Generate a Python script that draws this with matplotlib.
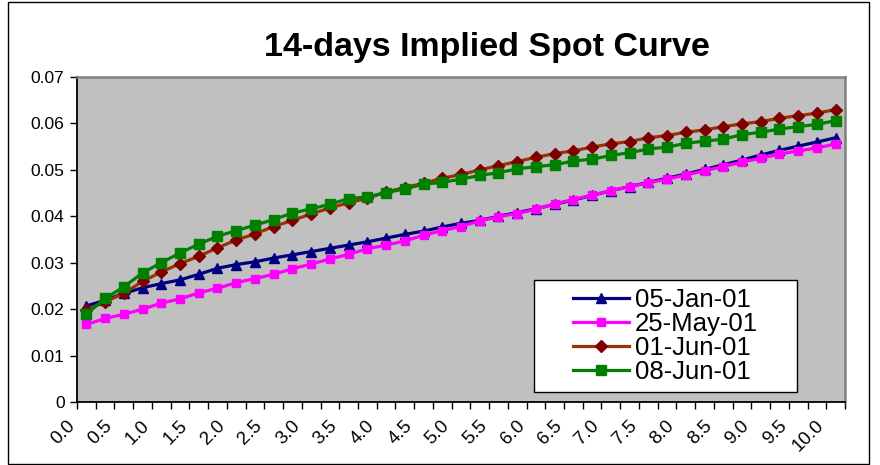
import matplotlib
matplotlib.use("Agg")
import matplotlib.pyplot as plt
import matplotlib.transforms as mtransforms
from matplotlib.patches import Rectangle

plt.rcParams['font.family'] = ['Liberation Sans', 'DejaVu Sans']

maturities = ["0.0", "0.25", "0.5", "0.75", "1.0", "1.25", "1.5", "1.75", "2.0", "2.25",
              "2.5", "2.75", "3.0", "3.25", "3.5", "3.75", "4.0", "4.25", "4.5", "4.75",
              "5.0", "5.25", "5.5", "5.75", "6.0", "6.25", "6.5", "6.75", "7.0", "7.25",
              "7.5", "7.75", "8.0", "8.25", "8.5", "8.75", "9.0", "9.25", "9.5", "9.75", "10.0"]

jan05 = [0.0207, 0.0219, 0.0234, 0.0246, 0.0255, 0.0263, 0.0275, 0.0288, 0.0296, 0.0302,
         0.0310, 0.0317, 0.0324, 0.0331, 0.0338, 0.0345, 0.0353, 0.0361, 0.0368, 0.0377,
         0.0385, 0.0391, 0.0400, 0.0408, 0.0416, 0.0426, 0.0435, 0.0445, 0.0455, 0.0464,
         0.0473, 0.0482, 0.0491, 0.0501, 0.0511, 0.0521, 0.0532, 0.0542, 0.0551, 0.0560, 0.0569]

may25 = [0.0167, 0.0180, 0.0189, 0.0200, 0.0213, 0.0222, 0.0235, 0.0245, 0.0257, 0.0266,
         0.0275, 0.0287, 0.0297, 0.0308, 0.0318, 0.0330, 0.0338, 0.0347, 0.0359, 0.0369,
         0.0378, 0.0390, 0.0399, 0.0406, 0.0415, 0.0427, 0.0436, 0.0446, 0.0455, 0.0464,
         0.0472, 0.0480, 0.0489, 0.0498, 0.0507, 0.0517, 0.0525, 0.0534, 0.0541, 0.0547, 0.0556]

jun01 = [0.0198, 0.0216, 0.0234, 0.0260, 0.0280, 0.0298, 0.0314, 0.0332, 0.0349, 0.0362,
         0.0378, 0.0391, 0.0405, 0.0418, 0.0429, 0.0439, 0.0452, 0.0462, 0.0471, 0.0482,
         0.0490, 0.0500, 0.0509, 0.0518, 0.0527, 0.0535, 0.0541, 0.0549, 0.0556, 0.0561,
         0.0569, 0.0574, 0.0581, 0.0586, 0.0593, 0.0599, 0.0604, 0.0611, 0.0617, 0.0622, 0.0630]

jun08 = [0.0189, 0.0223, 0.0248, 0.0278, 0.0300, 0.0321, 0.0340, 0.0357, 0.0369, 0.0381,
         0.0393, 0.0407, 0.0416, 0.0426, 0.0438, 0.0442, 0.0451, 0.0459, 0.0469, 0.0473,
         0.0480, 0.0488, 0.0494, 0.0502, 0.0507, 0.0511, 0.0519, 0.0523, 0.0531, 0.0537,
         0.0545, 0.0549, 0.0557, 0.0562, 0.0566, 0.0576, 0.0581, 0.0588, 0.0593, 0.0598, 0.0606]

series_names = ["05-Jan-01", "25-May-01", "01-Jun-01", "08-Jun-01"]
xtick_labels = ["0.0", "0.5", "1.0", "1.5", "2.0", "2.5", "3.0", "3.5", "4.0", "4.5", "5.0",
                "5.5", "6.0", "6.5", "7.0", "7.5", "8.0", "8.5", "9.0", "9.5", "10.0"]
ytick_values = [0, 0.01, 0.02, 0.03, 0.04, 0.05, 0.06, 0.07]
ytick_labels = ["0", "0.01", "0.02", "0.03", "0.04", "0.05", "0.06", "0.07"]

W, H = 880, 465
fig = plt.figure(figsize=(W / 100, H / 100), dpi=100)
fig.patch.set_facecolor("white")

# chart area border
fig.patches.append(Rectangle((8 / W, 1 / H), (869 - 8) / W, (463 - 1) / H,
                             transform=fig.transFigure, fill=False,
                             edgecolor="black", linewidth=1.0))

L, R, T, B = 77, 845, 77, 402
ax = fig.add_axes([L / W, (H - B) / H, (R - L) / W, (B - T) / H])
ax.set_facecolor("#C0C0C0")

x = list(range(len(maturities)))
styles = [
    dict(color="#000080", marker="^", ms=7, mfc="#000080", mec="#000080"),
    dict(color="#FF00FF", marker="s", ms=6, mfc="#FF00FF", mec="#FF00FF"),
    dict(color="#993300", marker="D", ms=6, mfc="#800000", mec="#800000"),
    dict(color="#008000", marker="s", ms=7, mfc="#008000", mec="#008000"),
]
handles = []
for vals, name, st in zip([jan05, may25, jun01, jun08], series_names, styles):
    h, = ax.plot(x, vals, lw=2.3, label=name, **st)
    handles.append(h)

ax.set_xlim(-0.5, len(maturities) - 0.5)
ax.set_ylim(0, 0.07)

# category boundaries as tick marks
ax.set_xticks([i - 0.5 for i in range(len(maturities) + 1)])
ax.set_xticklabels([])
ax.tick_params(axis="x", which="major", direction="out", length=5, width=1, color="black")
ax.set_xticks(x[::2], labels=xtick_labels, minor=True)
ax.tick_params(axis="x", which="minor", length=0, pad=11, labelsize=13.5)
offset = mtransforms.ScaledTranslation(-8 / 100, 0, fig.dpi_scale_trans)
for lab in ax.get_xticklabels(minor=True):
    lab.set_rotation(45)
    lab.set_ha("right")
    lab.set_va("top")
    lab.set_transform(lab.get_transform() + offset)

ax.set_yticks(ytick_values, labels=ytick_labels)
ax.tick_params(axis="y", direction="out", length=5, width=1, pad=4, labelsize=12.5)

for s in ["left", "bottom"]:
    ax.spines[s].set_color("black")
    ax.spines[s].set_linewidth(1.3)
for s in ["top", "right"]:
    ax.spines[s].set_color("#808080")
    ax.spines[s].set_linewidth(1.8)

fig.text(487 / W, (H - 56) / H, "14-days Implied Spot Curve", ha="center",
         va="baseline", fontsize=24.5, fontweight="bold")

# legend
lx0, lx1, ly0, ly1 = 534, 797, 280, 392
fig.patches.append(Rectangle((lx0 / W, (H - ly1) / H), (lx1 - lx0) / W, (ly1 - ly0) / H,
                             transform=fig.transFigure, facecolor="white",
                             edgecolor="black", linewidth=1.0, zorder=5))
leg = fig.legend(handles=handles, loc="center",
                 bbox_to_anchor=((lx0 + lx1) / 2 / W, (H - (ly0 + ly1) / 2) / H),
                 frameon=False, fontsize=18.5, handlelength=2.2, handletextpad=0.22,
                 labelspacing=0.0, borderpad=0.1, numpoints=1)
leg.set_zorder(6)

fig.savefig("out.png", dpi=100)
